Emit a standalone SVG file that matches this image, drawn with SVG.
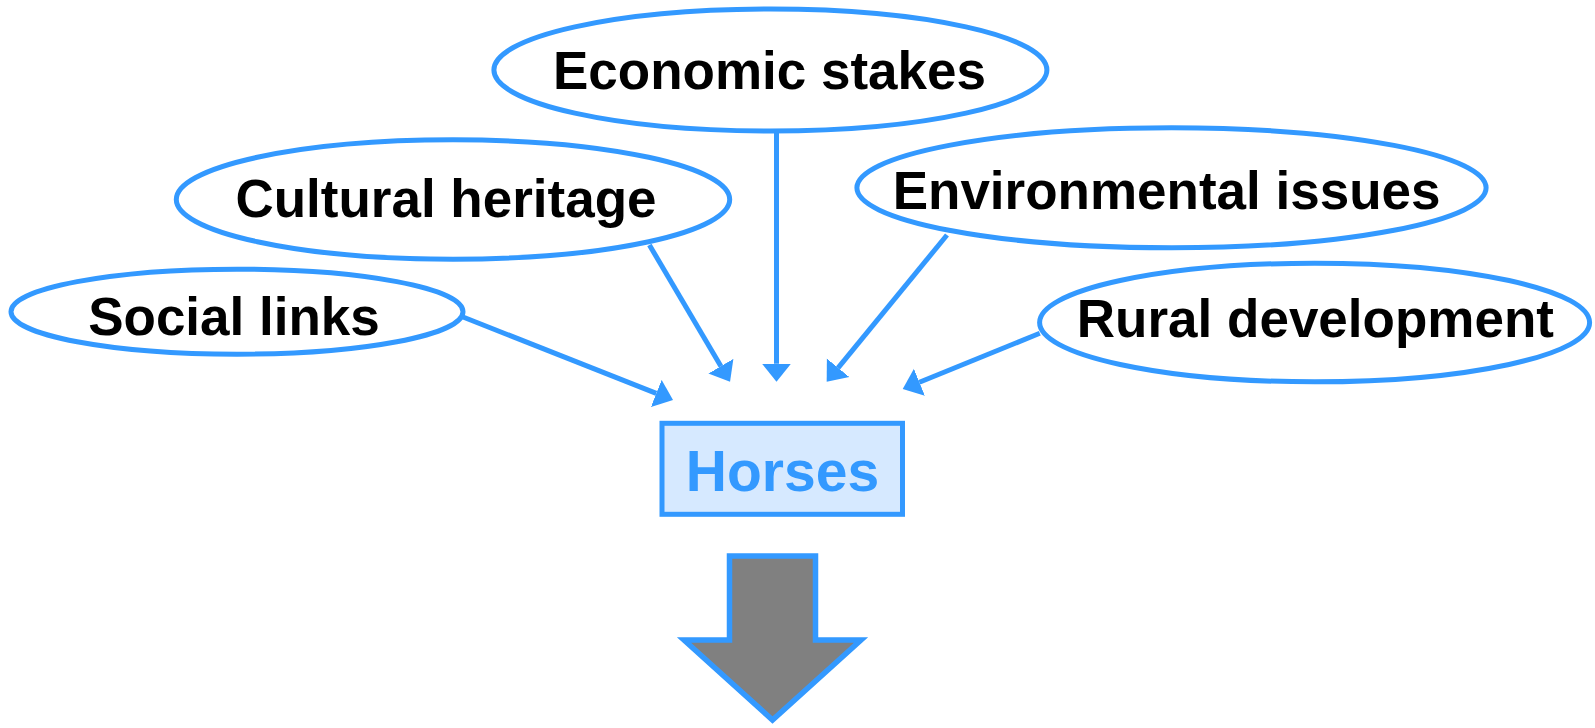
<svg xmlns="http://www.w3.org/2000/svg" width="1595" height="728" viewBox="0 0 1595 728">
<style>
.node ellipse{fill:#ffffff;stroke:#3399ff;stroke-width:5}
.lbl{font-family:"Liberation Sans",Arial,sans-serif;font-weight:bold;font-size:53px;fill:#000000;text-anchor:middle}
.conn line{stroke:#3399ff;stroke-width:5}
.hz{font-family:"Liberation Sans",Arial,sans-serif;font-weight:bold;font-size:57px;fill:#3399ff;text-anchor:middle}
</style>
<defs>
<marker id="ah" markerUnits="userSpaceOnUse" markerWidth="20" markerHeight="30" viewBox="0 -15 20 30" refX="0" refY="0" orient="auto">
<path d="M0,-14.5 L18,0 L0,14.5 z" fill="#3399ff"/>
</marker>
</defs>
<rect width="1595" height="728" fill="#ffffff"/>
<g id="connectors" class="conn">
<line x1="463" y1="317" x2="656.3" y2="393.4" marker-end="url(#ah)"/>
<line x1="649.4" y1="245" x2="720.9" y2="366.2" marker-end="url(#ah)"/>
<line x1="776.5" y1="131" x2="776.5" y2="363.7" marker-end="url(#ah)"/>
<line x1="947" y1="235" x2="838.1" y2="367.8" marker-end="url(#ah)"/>
<line x1="1039.8" y1="333.3" x2="919.4" y2="382.2" marker-end="url(#ah)"/>
</g>
<g id="economic" class="node">
<ellipse cx="770.4" cy="70" rx="276.5" ry="61"/>
<text class="lbl" x="769.5" y="89.3">Economic stakes</text>
</g>
<g id="cultural" class="node">
<ellipse cx="453" cy="199.5" rx="276.7" ry="59.7"/>
<text class="lbl" x="446" y="216.7">Cultural heritage</text>
</g>
<g id="environmental" class="node">
<ellipse cx="1171.5" cy="187.8" rx="314.6" ry="60"/>
<text class="lbl" x="1166.6" y="209">Environmental issues</text>
</g>
<g id="social" class="node">
<ellipse cx="237" cy="311.7" rx="226" ry="42.5"/>
<text class="lbl" x="234" y="335">Social links</text>
</g>
<g id="rural" class="node">
<ellipse cx="1314.6" cy="322.5" rx="275" ry="59.3"/>
<text class="lbl" x="1315.4" y="336.7">Rural development</text>
</g>
<g id="horses">
<rect x="662" y="423.3" width="240.5" height="91" fill="#d6e9ff" stroke="#3399ff" stroke-width="5"/>
<text class="hz" x="782.5" y="491">Horses</text>
</g>
<g id="bigarrow">
<polygon points="729.5,556 815.5,556 815.5,640 861,640 772.5,720 684,640 729.5,640" fill="#808080" stroke="#3399ff" stroke-width="5.5" stroke-linejoin="miter"/>
</g>
</svg>
